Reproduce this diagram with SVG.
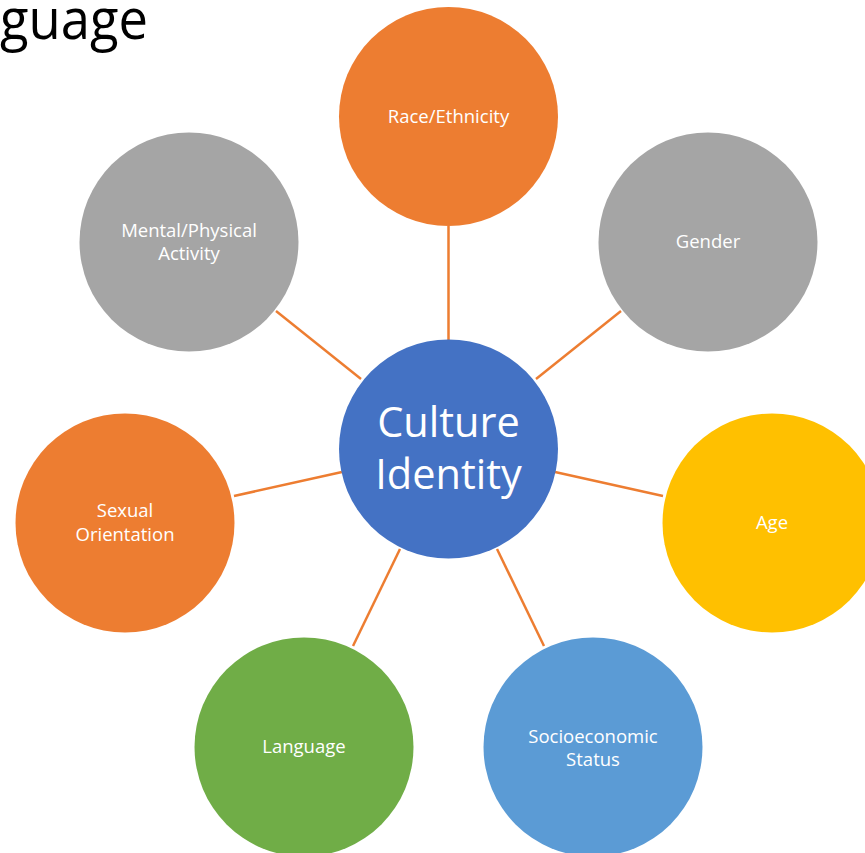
<svg xmlns="http://www.w3.org/2000/svg" width="865" height="853" viewBox="0 0 865 853">
<style>
.lbl{font-family:"Open Sans","Liberation Sans",sans-serif;font-size:18.5px;fill:#fff;text-anchor:middle}
.ctr{font-family:"Open Sans","Liberation Sans",sans-serif;font-size:41.5px;fill:#fff;text-anchor:middle}
.ln{stroke:#ED7D31;stroke-width:2.5;fill:none}
</style>
<rect width="865" height="853" fill="#fff"/>
<text x="0" y="39" font-family="'Open Sans','Liberation Sans',sans-serif" font-size="56" fill="#000" textLength="148" lengthAdjust="spacingAndGlyphs">guage</text>
<g id="connectors">
<line class="ln" x1="448.5" y1="226" x2="448.5" y2="340"/>
<line class="ln" x1="621" y1="311" x2="536" y2="379"/>
<line class="ln" x1="276" y1="311" x2="361" y2="379"/>
<line class="ln" x1="234" y1="496" x2="342" y2="472"/>
<line class="ln" x1="663" y1="496" x2="555" y2="472"/>
<line class="ln" x1="353" y1="646" x2="400" y2="549"/>
<line class="ln" x1="544" y1="646" x2="497" y2="549"/>
</g>
<g id="center"><circle cx="448.5" cy="449" r="109.5" fill="#4472C4"/><text class="ctr" x="448.5" y="437">Culture</text><text class="ctr" x="448.5" y="489">Identity</text></g>
<g id="race"><circle cx="448.5" cy="116.5" r="109.5" fill="#ED7D31"/><text class="lbl" x="448.5" y="123">Race/Ethnicity</text></g>
<g id="gender"><circle cx="708" cy="242" r="109.5" fill="#A5A5A5"/><text class="lbl" x="708" y="248">Gender</text></g>
<g id="mental"><circle cx="189" cy="242" r="109.5" fill="#A5A5A5"/><text class="lbl" x="189" y="237">Mental/Physical</text><text class="lbl" x="189" y="260">Activity</text></g>
<g id="sexual"><circle cx="125" cy="523" r="109.5" fill="#ED7D31"/><text class="lbl" x="125" y="517">Sexual</text><text class="lbl" x="125" y="541">Orientation</text></g>
<g id="age"><circle cx="772" cy="523" r="109.5" fill="#FFC000"/><text class="lbl" x="772" y="529">Age</text></g>
<g id="language"><circle cx="304" cy="747" r="109.5" fill="#70AD47"/><text class="lbl" x="304" y="753">Language</text></g>
<g id="socio"><circle cx="593" cy="747" r="109.5" fill="#5B9BD5"/><text class="lbl" x="593" y="743">Socioeconomic</text><text class="lbl" x="593" y="766">Status</text></g>
</svg>
